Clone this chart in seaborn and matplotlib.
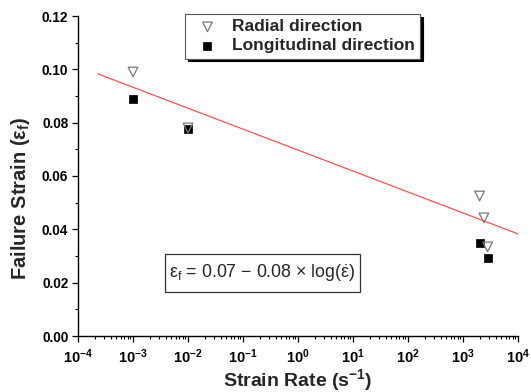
import numpy as np
import pandas as pd
import matplotlib
matplotlib.use("Agg")
import matplotlib.pyplot as plt
import seaborn as sns
from matplotlib.patches import Rectangle
from matplotlib.ticker import LogLocator, MultipleLocator, NullFormatter

# ---- data ----
radial_rate = [1e-3, 1e-2, 2000, 2400, 2800]
radial_strain = [0.099, 0.078, 0.0525, 0.0443, 0.0334]
long_rate = [1e-3, 1e-2, 2000, 2800]
long_strain = [0.0889, 0.0776, 0.0349, 0.0293]
fit_rate = [2.3e-4, 1e4]
fit_strain = [0.0983, 0.0383]
xtick_vals = [1e-4, 1e-3, 1e-2, 1e-1, 1e0, 1e1, 1e2, 1e3, 1e4]
xtick_labels = [r"$\mathbf{10^{-4}}$", r"$\mathbf{10^{-3}}$", r"$\mathbf{10^{-2}}$",
                r"$\mathbf{10^{-1}}$", r"$\mathbf{10^{0}}$", r"$\mathbf{10^{1}}$",
                r"$\mathbf{10^{2}}$", r"$\mathbf{10^{3}}$", r"$\mathbf{10^{4}}$"]
ytick_vals = [0.00, 0.02, 0.04, 0.06, 0.08, 0.10, 0.12]
ytick_labels = ["0.00", "0.02", "0.04", "0.06", "0.08", "0.10", "0.12"]

sns.set_style("ticks")
plt.rcParams["font.family"] = ["Liberation Sans", "DejaVu Sans"]
plt.rcParams["mathtext.fontset"] = "custom"
plt.rcParams["mathtext.rm"] = "Liberation Sans"
plt.rcParams["mathtext.it"] = "Liberation Sans:italic"
plt.rcParams["mathtext.bf"] = "Liberation Sans:bold"

fig = plt.figure(figsize=(5.31, 3.92), dpi=100)
ax = fig.add_axes([78 / 531, 1 - 336 / 392, 440 / 531, 320 / 392])

rad_df = pd.DataFrame({"rate": radial_rate, "strain": radial_strain})
lon_df = pd.DataFrame({"rate": long_rate, "strain": long_strain})
fit_df = pd.DataFrame({"rate": fit_rate, "strain": fit_strain})

sns.lineplot(data=fit_df, x="rate", y="strain", ax=ax, color="#ff5050", linewidth=0.9)
sns.scatterplot(data=lon_df, x="rate", y="strain", ax=ax, marker="s", s=26,
                color="black", edgecolor="black", linewidth=0.5,
                label="Longitudinal direction", zorder=3)
sns.scatterplot(data=rad_df, x="rate", y="strain", ax=ax, marker="v", s=48,
                facecolor="none", edgecolor="#777777", linewidth=0.9,
                label="Radial direction", zorder=4)

ax.set_xscale("log")
ax.set_xlim(1e-4, 1e4)
ax.set_ylim(0, 0.12)
ax.set_xticks(xtick_vals)
ax.set_xticklabels(xtick_labels, fontsize=10.5)
ax.xaxis.set_minor_locator(LogLocator(base=10, subs=np.arange(2, 10), numticks=20))
ax.xaxis.set_minor_formatter(NullFormatter())
ax.set_yticks(ytick_vals)
ax.set_yticklabels(ytick_labels, fontsize=9.8, fontweight="bold")
ax.yaxis.set_minor_locator(MultipleLocator(0.01))
ax.tick_params(which="major", direction="out", length=4, width=0.9, colors="black")
ax.tick_params(which="minor", direction="out", length=2.2, width=0.8, colors="black")
ax.tick_params(axis="x", pad=4)
ax.tick_params(axis="y", pad=3)

for side in ["top", "right"]:
    ax.spines[side].set_visible(False)
for side in ["left", "bottom"]:
    ax.spines[side].set_color("black")
    ax.spines[side].set_linewidth(1.0)

ax.set_xlabel(r"Strain Rate (s$^{\mathbf{-1}}$)", fontsize=14, fontweight="bold", labelpad=1)
ax.set_ylabel(r"Failure Strain (ε$_{\mathbf{f}}$)", fontsize=14.5, fontweight="bold")
ax.yaxis.set_label_coords(-0.105, 0.43)

handles, labels = ax.get_legend_handles_labels()
order = [labels.index("Radial direction"), labels.index("Longitudinal direction")]
leg = ax.legend([handles[i] for i in order], [labels[i] for i in order],
                loc="upper left", bbox_to_anchor=(0.243, 1.006), borderaxespad=0,
                frameon=True, fancybox=False, shadow={"color": "black", "alpha": 1},
                prop={"weight": "bold", "size": 12.5}, handletextpad=0.4,
                borderpad=0.3, labelspacing=0.22, handlelength=2.0)
leg.get_frame().set_edgecolor("#555555")
leg.get_frame().set_linewidth(0.8)

# equation box
ax.add_patch(Rectangle((0.198, 0.1375), 0.443, 0.119, transform=ax.transAxes,
                       facecolor="white", edgecolor="#333333", linewidth=0.9, zorder=5))
ax.text(0.4195, 0.197,
        r"ε$_\mathregular{f}$ = 0.07 − 0.08 × log($\dot{\mathregular{ε}}$)",
        transform=ax.transAxes, fontsize=12.8, ha="center", va="center", zorder=6)

fig.savefig("out.png", dpi=100)
